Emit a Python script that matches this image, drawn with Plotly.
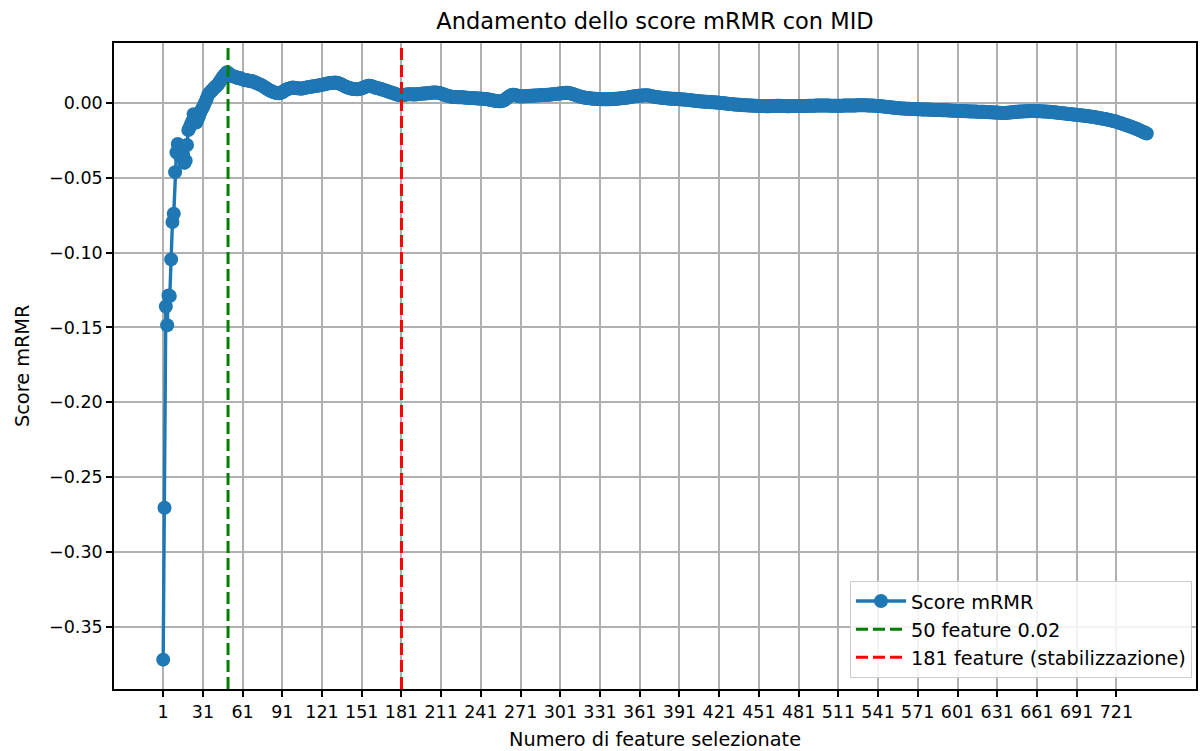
import plotly.graph_objects as go

# ---------------- data ----------------
score_001_030 = [-0.3720, -0.2705, -0.1360, -0.1485, -0.1286, -0.1290, -0.1045, -0.0795, -0.0740, -0.0462,
                 -0.0330, -0.0274, -0.0310, -0.0360, -0.0290, -0.0340, -0.0400, -0.0385, -0.0280, -0.0180,
                 -0.0164, -0.0140, -0.0120, -0.0075, -0.0100, -0.0130, -0.0110, -0.0090, -0.0065, -0.0045]
score_031_060 = [-0.0030, -0.0010, 0.0010, 0.0030, 0.0055, 0.0068, 0.0075, 0.0085, 0.0095, 0.0105,
                 0.0112, 0.0120, 0.0132, 0.0145, 0.0160, 0.0172, 0.0185, 0.0195, 0.0205, 0.0202,
                 0.0192, 0.0186, 0.0181, 0.0177, 0.0178, 0.0172, 0.0168, 0.0165, 0.0168, 0.0162]
score_061_090 = [0.0158, 0.0155, 0.0152, 0.0154, 0.0150, 0.0148, 0.0146, 0.0147, 0.0143, 0.0140,
                 0.0136, 0.0132, 0.0128, 0.0124, 0.0120, 0.0115, 0.0110, 0.0104, 0.0098, 0.0092,
                 0.0087, 0.0082, 0.0078, 0.0074, 0.0071, 0.0069, 0.0067, 0.0066, 0.0066, 0.0068]
score_091_120 = [0.0072, 0.0078, 0.0085, 0.0090, 0.0093, 0.0096, 0.0099, 0.0102, 0.0104, 0.0103,
                 0.0101, 0.0099, 0.0098, 0.0097, 0.0096, 0.0097, 0.0099, 0.0101, 0.0103, 0.0105,
                 0.0107, 0.0108, 0.0110, 0.0111, 0.0112, 0.0114, 0.0115, 0.0117, 0.0118, 0.0120]
score_121_150 = [0.0122, 0.0124, 0.0126, 0.0128, 0.0130, 0.0132, 0.0133, 0.0134, 0.0135, 0.0136,
                 0.0137, 0.0136, 0.0134, 0.0131, 0.0127, 0.0123, 0.0118, 0.0113, 0.0109, 0.0105,
                 0.0102, 0.0099, 0.0097, 0.0095, 0.0094, 0.0093, 0.0092, 0.0092, 0.0093, 0.0095]
score_151_180 = [0.0098, 0.0102, 0.0106, 0.0110, 0.0113, 0.0115, 0.0116, 0.0114, 0.0111, 0.0108,
                 0.0104, 0.0101, 0.0099, 0.0097, 0.0095, 0.0092, 0.0089, 0.0086, 0.0083, 0.0080,
                 0.0077, 0.0074, 0.0071, 0.0068, 0.0065, 0.0062, 0.0059, 0.0056, 0.0054, 0.0053]
score_181_210 = [0.0052, 0.0053, 0.0055, 0.0056, 0.0057, 0.0058, 0.0059, 0.0059, 0.0058, 0.0057,
                 0.0057, 0.0058, 0.0059, 0.0060, 0.0061, 0.0062, 0.0063, 0.0063, 0.0064, 0.0065,
                 0.0066, 0.0067, 0.0068, 0.0069, 0.0070, 0.0070, 0.0070, 0.0069, 0.0068, 0.0066]
score_211_240 = [0.0063, 0.0060, 0.0057, 0.0054, 0.0051, 0.0048, 0.0046, 0.0044, 0.0042, 0.0041,
                 0.0040, 0.0040, 0.0039, 0.0039, 0.0038, 0.0038, 0.0038, 0.0037, 0.0037, 0.0036,
                 0.0035, 0.0034, 0.0034, 0.0033, 0.0033, 0.0032, 0.0032, 0.0031, 0.0031, 0.0030]
score_241_270 = [0.0029, 0.0028, 0.0028, 0.0027, 0.0026, 0.0025, 0.0024, 0.0022, 0.0020, 0.0018,
                 0.0016, 0.0014, 0.0013, 0.0012, 0.0012, 0.0012, 0.0014, 0.0017, 0.0022, 0.0028,
                 0.0035, 0.0042, 0.0048, 0.0053, 0.0056, 0.0055, 0.0053, 0.0050, 0.0047, 0.0045]
score_271_300 = [0.0044, 0.0044, 0.0045, 0.0045, 0.0046, 0.0046, 0.0047, 0.0048, 0.0048, 0.0049,
                 0.0050, 0.0050, 0.0051, 0.0051, 0.0052, 0.0052, 0.0053, 0.0053, 0.0054, 0.0054,
                 0.0055, 0.0055, 0.0056, 0.0057, 0.0058, 0.0059, 0.0060, 0.0061, 0.0062, 0.0063]
score_301_330 = [0.0064, 0.0065, 0.0066, 0.0067, 0.0068, 0.0068, 0.0068, 0.0066, 0.0064, 0.0061,
                 0.0058, 0.0055, 0.0052, 0.0049, 0.0046, 0.0043, 0.0041, 0.0039, 0.0037, 0.0035,
                 0.0034, 0.0033, 0.0032, 0.0031, 0.0030, 0.0029, 0.0028, 0.0028, 0.0027, 0.0027]
score_331_360 = [0.0026, 0.0026, 0.0026, 0.0025, 0.0025, 0.0025, 0.0025, 0.0026, 0.0026, 0.0027,
                 0.0027, 0.0028, 0.0029, 0.0029, 0.0030, 0.0031, 0.0032, 0.0033, 0.0034, 0.0035,
                 0.0036, 0.0037, 0.0039, 0.0040, 0.0042, 0.0043, 0.0045, 0.0046, 0.0047, 0.0048]
score_361_390 = [0.0049, 0.0050, 0.0051, 0.0051, 0.0052, 0.0052, 0.0051, 0.0050, 0.0048, 0.0046,
                 0.0044, 0.0042, 0.0040, 0.0039, 0.0038, 0.0037, 0.0036, 0.0035, 0.0034, 0.0033,
                 0.0032, 0.0031, 0.0030, 0.0030, 0.0029, 0.0029, 0.0028, 0.0028, 0.0027, 0.0027]
score_391_420 = [0.0026, 0.0025, 0.0024, 0.0023, 0.0023, 0.0022, 0.0021, 0.0020, 0.0019, 0.0018,
                 0.0017, 0.0016, 0.0015, 0.0014, 0.0013, 0.0012, 0.0011, 0.0010, 0.0010, 0.0009,
                 0.0008, 0.0008, 0.0007, 0.0006, 0.0006, 0.0005, 0.0005, 0.0004, 0.0004, 0.0003]
score_421_450 = [0.0002, 0.0001, 0.0000, -0.0001, -0.0002, -0.0003, -0.0004, -0.0005, -0.0006, -0.0007,
                 -0.0008, -0.0009, -0.0010, -0.0010, -0.0011, -0.0012, -0.0012, -0.0013, -0.0014, -0.0014,
                 -0.0015, -0.0015, -0.0016, -0.0016, -0.0017, -0.0017, -0.0018, -0.0018, -0.0018, -0.0019]
score_451_480 = [-0.0019, -0.0019, -0.0020, -0.0020, -0.0020, -0.0021, -0.0021, -0.0021, -0.0021, -0.0020,
                 -0.0020, -0.0019, -0.0019, -0.0018, -0.0018, -0.0018, -0.0018, -0.0019, -0.0019, -0.0020,
                 -0.0020, -0.0021, -0.0021, -0.0021, -0.0020, -0.0020, -0.0019, -0.0019, -0.0019, -0.0019]
score_481_510 = [-0.0019, -0.0019, -0.0020, -0.0020, -0.0020, -0.0019, -0.0019, -0.0018, -0.0018, -0.0018,
                 -0.0018, -0.0018, -0.0018, -0.0017, -0.0017, -0.0017, -0.0017, -0.0017, -0.0017, -0.0017,
                 -0.0017, -0.0017, -0.0017, -0.0017, -0.0018, -0.0018, -0.0018, -0.0018, -0.0018, -0.0018]
score_511_540 = [-0.0018, -0.0018, -0.0018, -0.0018, -0.0017, -0.0017, -0.0017, -0.0017, -0.0017, -0.0016,
                 -0.0016, -0.0016, -0.0016, -0.0016, -0.0015, -0.0015, -0.0015, -0.0015, -0.0015, -0.0015,
                 -0.0015, -0.0015, -0.0016, -0.0016, -0.0016, -0.0017, -0.0017, -0.0018, -0.0018, -0.0019]
score_541_570 = [-0.0019, -0.0020, -0.0021, -0.0022, -0.0023, -0.0024, -0.0025, -0.0026, -0.0027, -0.0028,
                 -0.0029, -0.0030, -0.0031, -0.0032, -0.0033, -0.0034, -0.0035, -0.0036, -0.0036, -0.0037,
                 -0.0037, -0.0038, -0.0038, -0.0039, -0.0039, -0.0040, -0.0040, -0.0040, -0.0041, -0.0041]
score_571_600 = [-0.0042, -0.0042, -0.0042, -0.0043, -0.0043, -0.0043, -0.0044, -0.0044, -0.0044, -0.0045,
                 -0.0045, -0.0045, -0.0046, -0.0046, -0.0046, -0.0047, -0.0047, -0.0047, -0.0048, -0.0048,
                 -0.0048, -0.0049, -0.0049, -0.0050, -0.0050, -0.0050, -0.0051, -0.0051, -0.0052, -0.0052]
score_601_630 = [-0.0053, -0.0053, -0.0053, -0.0054, -0.0054, -0.0054, -0.0055, -0.0055, -0.0055, -0.0056,
                 -0.0056, -0.0056, -0.0057, -0.0057, -0.0057, -0.0058, -0.0058, -0.0058, -0.0059, -0.0059,
                 -0.0059, -0.0060, -0.0060, -0.0061, -0.0061, -0.0062, -0.0062, -0.0063, -0.0063, -0.0064]
score_631_660 = [-0.0064, -0.0065, -0.0065, -0.0066, -0.0066, -0.0066, -0.0066, -0.0065, -0.0065, -0.0064,
                 -0.0063, -0.0062, -0.0061, -0.0060, -0.0059, -0.0058, -0.0058, -0.0057, -0.0057, -0.0056,
                 -0.0056, -0.0055, -0.0055, -0.0055, -0.0054, -0.0054, -0.0054, -0.0054, -0.0054, -0.0054]
score_661_690 = [-0.0054, -0.0055, -0.0055, -0.0055, -0.0056, -0.0056, -0.0057, -0.0057, -0.0058, -0.0059,
                 -0.0059, -0.0060, -0.0061, -0.0062, -0.0063, -0.0064, -0.0065, -0.0066, -0.0067, -0.0068,
                 -0.0069, -0.0070, -0.0071, -0.0072, -0.0073, -0.0074, -0.0075, -0.0076, -0.0077, -0.0078]
score_691_720 = [-0.0079, -0.0080, -0.0081, -0.0082, -0.0083, -0.0084, -0.0085, -0.0086, -0.0087, -0.0088,
                 -0.0090, -0.0091, -0.0092, -0.0094, -0.0095, -0.0097, -0.0098, -0.0100, -0.0101, -0.0103,
                 -0.0105, -0.0106, -0.0108, -0.0110, -0.0112, -0.0114, -0.0116, -0.0118, -0.0120, -0.0122]
score_721_744 = [-0.0125, -0.0128, -0.0131, -0.0134, -0.0137, -0.0140, -0.0143, -0.0146, -0.0149, -0.0152,
                 -0.0155, -0.0158, -0.0162, -0.0165, -0.0169, -0.0172, -0.0176, -0.0180, -0.0184, -0.0188,
                 -0.0192, -0.0196, -0.0200, -0.0204]

x_tick_values = [1, 31, 61, 91, 121, 151, 181, 211, 241, 271, 301, 331, 361, 391, 421,
                 451, 481, 511, 541, 571, 601, 631, 661, 691, 721]
y_tick_values = [-0.35, -0.30, -0.25, -0.20, -0.15, -0.10, -0.05, 0.00]

marker_features = [50, 181]
marker_labels = ["50 feature 0.02", "181 feature (stabilizzazione)"]
marker_colors = ["#008000", "#ff0000"]

title_text = "Andamento dello score mRMR con MID"
x_title = "Numero di feature selezionate"
y_title = "Score mRMR"
series_name = "Score mRMR"

# ---------------- assemble ----------------
scores = (score_001_030 + score_031_060 + score_061_090 + score_091_120 + score_121_150 +
          score_151_180 + score_181_210 + score_211_240 + score_241_270 + score_271_300 +
          score_301_330 + score_331_360 + score_361_390 + score_391_420 + score_421_450 +
          score_451_480 + score_481_510 + score_511_540 + score_541_570 + score_571_600 +
          score_601_630 + score_631_660 + score_661_690 + score_691_720 + score_721_744)
features = list(range(1, len(scores) + 1))

FONT = "DejaVu Sans"
BLUE = "#1f77b4"

# axis ranges with matplotlib-like 5% margins
xpad = 0.05 * (features[-1] - features[0])
x_range = [features[0] - xpad, features[-1] + xpad]
ymin, ymax = min(scores), max(scores)
ypad = 0.05 * (ymax - ymin)
y_range = [ymin - ypad, ymax + ypad]

W, H = 1200, 751
ML, MR, MT, MB = 114, 4, 43, 62
plot_w = W - ML - MR
plot_h = H - MT - MB

fig = go.Figure()
fig.add_trace(go.Scatter(
    x=features, y=scores, mode="lines+markers", name=series_name,
    line=dict(color=BLUE, width=3.4),
    marker=dict(color=BLUE, size=14, line=dict(width=0)),
    legendgroup="a",
))

for f, lab, col, grp in zip(marker_features, marker_labels, marker_colors, ["b", "c"]):
    fig.add_trace(go.Scatter(
        x=[f, f], y=y_range, mode="lines", name=lab,
        line=dict(color=col, width=3, dash="12px,5px"),
        legendgroup=grp,
    ))

fig.update_layout(
    width=W, height=H,
    margin=dict(l=ML, r=MR, t=MT, b=MB, autoexpand=False),
    paper_bgcolor="white", plot_bgcolor="white",
    font=dict(family=FONT, size=17.5, color="black"),
    title=dict(text=title_text, x=0.5, xref="paper", y=1 - 21 / H, yref="container",
               xanchor="center", yanchor="middle", font=dict(family=FONT, size=22.5, color="black")),
    showlegend=True,
    legend=dict(x=(1192 - ML) / plot_w, y=(H - MB - 678) / plot_h, xanchor="right", yanchor="bottom",
                bgcolor="rgba(255,255,255,0.85)", bordercolor="#cccccc", borderwidth=1,
                font=dict(family=FONT, size=19.3, color="black"),
                tracegroupgap=0, itemwidth=50),
    annotations=[
        dict(text=x_title, xref="paper", yref="paper", x=0.5, y=-(739 - (H - MB)) / plot_h,
             xanchor="center", yanchor="middle", showarrow=False,
             font=dict(family=FONT, size=19.3, color="black")),
        dict(text=y_title, xref="paper", yref="paper", x=-(ML - 22) / plot_w, y=0.5,
             xanchor="center", yanchor="middle", showarrow=False, textangle=-90,
             font=dict(family=FONT, size=19.3, color="black")),
    ],
)

fig.update_xaxes(
    range=x_range, tickmode="array", tickvals=x_tick_values,
    ticktext=[str(v) for v in x_tick_values], automargin=False,
    showgrid=True, gridcolor="#b0b0b0", gridwidth=1.6,
    showline=True, linecolor="black", linewidth=1.6, mirror=True,
    ticks="outside", ticklen=6, tickwidth=1.6, tickcolor="black",
    zeroline=False,
)
fig.update_yaxes(
    range=y_range, tickmode="array", tickvals=y_tick_values,
    tickformat=".2f", automargin=False,
    showgrid=True, gridcolor="#b0b0b0", gridwidth=1.6,
    showline=True, linecolor="black", linewidth=1.6, mirror=True,
    ticks="outside", ticklen=6, tickwidth=1.6, tickcolor="black",
    zeroline=False,
)

fig.write_html("out.html",
               config={"displayModeBar": False},
               post_script="document.body.style.margin='0';document.body.style.padding='0';"
                           "document.body.style.overflow='hidden';")
